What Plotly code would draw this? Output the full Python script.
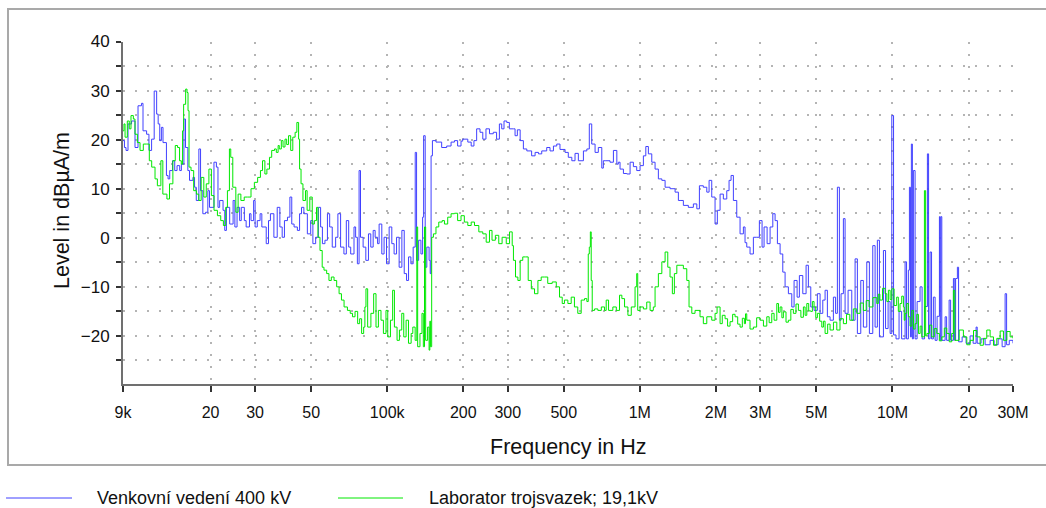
import plotly.graph_objects as go

# Measured magnetic field level (dBµA/m) versus frequency (kHz)
blue_khz = [
    9.0, 9.12, 9.25, 9.42, 9.73, 10.04, 10.32, 10.65, 10.80, 11.16, 11.40, 11.68, 11.96, 12.23,
    12.40, 12.58, 12.77, 12.96, 13.37, 13.57, 13.78, 14.13, 14.42, 14.73, 15.09, 15.32, 15.68,
    15.91, 16.25, 16.50, 17.02, 17.28, 17.55, 17.97, 18.25, 18.63, 19.10, 19.50, 19.80, 20.62,
    21.08, 21.39, 21.72, 22.40, 22.75, 23.10, 23.80, 24.55, 24.95, 25.45, 26.05, 26.45, 27.20,
    27.65, 28.5, 28.9, 29.6, 30.0, 30.6, 31.4, 31.9, 33.2, 33.9, 34.5, 35.6, 36.7, 37.6, 38.4,
    39.2, 40.3, 41.2, 41.9, 42.8, 44.1, 45.0, 45.8, 46.8, 48.3, 49.8, 50.8, 52.1, 53.4, 54.5,
    55.4, 56.7, 58.0, 59.2, 60.6, 62.5, 63.8, 65.4, 67.4, 68.9, 70.4, 71.7, 73.9, 75.0, 76.2,
    77.4, 78.4, 80.3, 82.3, 84.3, 86.1, 88.0, 89.6, 91.6, 92.9, 95.2, 97.2, 99.4, 101.8, 104.3,
    106.5, 108.9, 111.5, 114.3, 116.8, 119.3, 121.5, 124.1, 126.7, 129.1, 130.7, 133.2, 136.0,
    138.1, 139.4, 141.4, 143.5, 146.5, 148.0, 149.2, 151.0,
    156, 164.3, 172.0, 179, 184.6, 190, 196, 199, 208.5, 215, 220.5, 226, 233, 239, 246, 254,
    263, 271, 278, 284, 290, 297.4, 304.5, 315.8, 320.7, 327.5, 336, 346, 357, 373, 385, 397,
    409, 428, 441, 455, 469, 483, 506, 521, 538, 554, 571, 598, 617, 631, 645, 665, 685, 707,
    717, 729, 762, 786, 811, 822, 835, 861, 888, 915, 943, 972,
    1002, 1033, 1056, 1081, 1115, 1149, 1184, 1222, 1259, 1317, 1379, 1421, 1443, 1487, 1556,
    1629, 1681, 1721, 1784, 1841, 1880, 1926, 1985, 2027, 2078, 2141, 2209, 2255, 2297, 2346,
    2419, 2493, 2570, 2609, 2650, 2731, 2815, 2903, 2973, 3047, 3103, 3190, 3278, 3360, 3431,
    3504, 3591, 3680, 3758, 3873, 3995, 4079, 4193, 4281, 4416, 4551, 4647, 4750, 4894, 5044,
    5170, 5299, 5411, 5526, 5663, 5837, 5955, 6053, 6164, 6260, 6393, 6493, 6673, 6902, 7113,
    7263, 7491, 7671, 7913, 8103, 8357, 8535, 8715, 8880, 9210, 9390, 9610, 9790, 9940, 10100,
    10330, 10620, 10870, 11220, 11370, 11560, 11670, 11780, 11880, 11990, 12100, 12290, 12520,
    12860, 13100, 13400, 13750, 13900, 14090, 14280, 14520, 14750, 15020, 15340, 15440, 15540,
    15680, 16160, 16380, 16760, 16990, 17430, 17650, 17780, 18070, 18270, 18870, 19560, 20290,
    20860, 21430, 21650, 22430, 23260, 24350, 25260, 26200, 27170, 27920, 28300, 29000, 30000,
]
blue_db = [
    19.8, 18.4, 17.8, 23.2, 23.8, 18.4, 26.9, 27.4, 21.8, 21.1, 17.8, 20.1, 29.9, 25.2,
    23.2, 19.8, 22.5, 19.4, 12.7, 12.0, 13.7, 15.7, 13.7, 14.7, 13.7, 15.0, 24.2,
    18.4, 13.7, 11.7, 12.3, 10.3, 7.6, 18.1, 9.6, 4.9, 5.2, 9.6, 6.2, 15.4,
    14.4, 6.2, 7.6, 5.6, 1.5, 6.2, 2.8, 7.6, 2.2, 6.2, 3.5, 6.2, 3.5,
    2.2, 4.9, 3.5, 7.6, 2.2, 3.5, 4.9, 2.2, -1.2, 3.5, 4.9, 0.1, 6.2, 2.2, 0.1,
    3.5, 4.2, 8.3, 2.8, 2.2, 1.5, 4.9, 6.2, 4.9, 0.8, 3.5, -1.2, 0.1, 6.2, 2.2,
    -1.2, -0.5, 4.9, 2.2, -1.9, 0.1, 4.9, -1.9, -3.3, 3.5, -1.9, -3.3, 2.2, 0.1, -5.3,
    13.7, 0.1, -1.9, -4.6, 0.8, -1.9, 1.5, 0.1, -1.2, 2.8, -3.3, 0.1, -5.3, 2.2, -1.2,
    -3.3, 0.1, -6.0, 1.5, -7.3, -8.7, -3.9, -5.3, -1.9, 17.4, -4.6, -0.5, -3.3,
    4.2, 20.8, -6.0, -1.9, -4.6, -7.3, 16.7, 19.8,
    19.5, 18.4, 18.7, 19.5, 19.8, 18.7, 19.7, 20.1, 19.5, 18.7, 19.8, 22.2, 21.5, 20.1, 22.2, 21.2,
    21.5, 20.1, 23.2, 22.2, 23.8, 23.5, 22.2, 22.2, 20.8, 22.0, 19.8, 18.1, 17.7, 16.7, 17.4, 17.1,
    17.7, 18.4, 17.7, 18.7, 19.1, 18.0, 17.4, 16.4, 15.7, 17.2, 15.7, 17.7, 18.1, 23.2, 19.1, 17.4, 18.4, 14.2,
    15.7, 15.7, 15.4, 17.8, 15.0, 15.4, 14.0, 13.1, 13.0, 15.4, 14.5, 13.7,
    14.7, 16.7, 18.6, 17.1, 15.4, 14.0, 12.0, 11.7, 10.3, 10.0, 9.3, 7.6, 7.6, 6.6, 6.2,
    6.9, 5.9, 10.6, 10.3, 9.3, 11.7, 8.3, 2.8, 5.6, 8.9, 7.9, 9.6, 11.7, 12.7, 7.6,
    4.2, 0.8, 2.2, -1.0, -1.9, -3.3, 0.1, 0.1, 3.5, -1.9, 2.2, -1.2, 2.2, 4.9, 3.5,
    -1.2, -3.3, -7.0, -10.0, -11.4, -14.1, -8.7, -12.1, -7.7, -11.4, -5.6, -10.0, -14.1, -14.8, -11.4,
    -15.4, -12.7, -10.7, -16.1, -16.8, -12.1, -15.4, 10.3, -16.8, -11.4, 3.9, -15.4, -10.7, -16.8, -4.3,
    -19.5, -8.7, -18.2, -4.9, -19.5, -1.6, -18.2, -0.5, -20.2, -2.6, -18.5, -13.0, -19.5, 24.9, -19.8,
    -20.6, -15.0, -20.6, -4.9, -20.6, -6.6, 10.3, -20.2, 19.1, -20.6, 13.7, -20.6, -13.0,
    -10.0, -20.6, -14.0, 17.1, -20.6, -2.9, -20.6, -12.1, -20.9, -16.0, 4.3, -20.9, 4.3,
    -20.9, -16.1, -20.9, -12.7, -20.9, -8.3, -20.9, -8.3, -6.0, -21.2, -20.2, -21.5, -20.0,
    -21.5, -18.2, -21.5, -20.6, -21.8, -20.9, -21.8, -20.6, -22.2, -11.4, -21.8, -20.9, -21.5,
]

green_khz = [
    9.0, 9.08, 9.17, 9.36, 9.53, 9.68, 9.89, 10.04, 10.26, 10.51, 10.83, 11.17, 11.44, 11.69,
    12.05, 12.31, 12.63, 12.71, 12.94, 13.43, 13.75, 14.18, 14.49, 14.80, 15.07, 15.31, 15.49,
    15.64, 15.93, 16.13, 16.28, 16.43, 16.73, 17.14, 17.57, 17.95, 18.35, 18.80, 19.22, 19.69,
    20.14, 20.63, 21.28, 21.93, 22.47, 22.95, 23.31, 23.74, 24.03, 24.48, 25.17, 25.70, 26.35,
    27.17, 28.03, 28.9, 29.8, 30.7, 31.5, 32.1, 32.8, 33.4, 34.2, 34.9, 35.8, 36.4, 37.0, 37.4,
    38.1, 38.7, 39.4, 40.0, 40.7, 41.5, 42.3, 43.2, 43.9, 44.6, 45.0, 45.6, 46.4, 47.5, 48.2,
    49.4, 50.5, 51.5, 52.5, 53.2, 54.2, 55.3, 56.2, 57.6, 58.8, 60.1, 61.6, 63.1, 64.5, 65.9,
    67.5, 69.6, 71.4, 72.9, 74.6, 76.4, 77.8, 79.2, 80.7, 81.6, 82.4, 83.7, 86.2, 88.4, 90.3,
    92.3, 94.5, 96.6, 98.9, 100.5, 103.0, 105.1, 106.8, 109.4, 111.8, 114.2, 116.3, 118.8,
    121.4, 124.4, 126.3, 129.0, 131.0, 132.0, 134.8, 137.3, 139.0, 140.5, 142.0, 144.5, 146.5,
    147.5, 148.5,
    150.0, 152.4, 156, 160, 165, 168.5, 173.6, 179, 184.6, 190, 196, 202, 208.5, 215, 221.6,
    230.5, 239, 246.5, 254, 260, 268, 276.5, 285, 296, 305, 312.5, 316, 322, 329, 336, 344,
    353, 361.5, 372, 383, 395, 407, 419, 432, 450, 467, 481, 493, 503, 519, 535, 551, 568,
    586, 604, 617, 625, 631, 637, 642, 648, 662, 682, 704, 725, 736, 752, 782, 807, 831, 849,
    870, 897, 925, 957.5, 972, 981,
    1002, 1033, 1065, 1098, 1131, 1149, 1184, 1222, 1259, 1290, 1317, 1345, 1370, 1401, 1443,
    1487, 1534, 1566, 1606, 1654, 1731, 1784, 1841, 1926, 1985, 2022,
    2078, 2120, 2175, 2225, 2276, 2330, 2382, 2440, 2493, 2545, 2593, 2620, 2650, 2730, 2815,
    2900, 2992, 3085, 3181, 3250, 3329, 3400, 3485, 3540, 3591, 3650, 3700, 3790, 3873, 3960,
    4053, 4150, 4243, 4340, 4441, 4510, 4581, 4660, 4750, 4820, 4894, 4970, 5044, 5150, 5251,
    5330, 5411, 5540, 5663, 5840, 6021, 6200, 6393, 6580, 6779, 7000, 7224, 7450, 7671, 7870,
    8080, 8370, 8667, 8790, 8917, 9130, 9350, 9500, 9636, 9790, 9940, 10150, 10390, 10550,
    10710, 10880, 11050, 11130, 11220, 11390, 11560, 11740, 11930, 12110, 12290, 12480, 12670,
    12870, 13070, 13380, 13530, 13690, 14000, 14310, 14640, 14980, 15330, 15680, 16040, 16400,
    16780, 17160, 17430, 17650, 18370, 19090, 19690, 20290, 20930, 21570, 22230, 22900, 23620,
    24350, 25110, 25880, 26690, 27500, 28360, 29230, 30000,
]
green_db = [
    21.8, 23.2, 20.5, 23.8, 22.2, 24.9, 24.2, 21.1, 19.4, 17.8, 19.1, 19.1, 15.7, 14.4,
    12.0, 10.6, 10.6, 15.7, 8.9, 7.9, 11.0, 15.7, 18.8, 18.4, 15.7, 15.0, 21.8,
    27.2, 30.3, 29.6, 25.9, 14.4, 13.7, 9.6, 8.9, 7.6, 12.3, 8.3, 11.0, 14.0,
    8.6, 5.6, 4.5, 3.5, 2.5, 6.2, 9.6, 18.1, 16.4, 10.3, 5.2, 8.9, 7.6,
    8.3, 8.3, 10.0, 11.3, 12.3, 13.7, 15.7, 13.0, 14.0, 16.4, 17.8, 18.1, 17.4, 18.8, 18.1,
    19.8, 18.5, 20.1, 19.0, 20.8, 17.8, 20.5, 21.5, 23.5, 20.1, 14.0, 11.0, 7.6, 9.6, 5.6,
    8.3, 2.8, 3.5, 6.2, 0.1, -2.6, -6.0, -6.6, -7.3, -8.7, -8.0, -8.7, -10.0, -11.4, -12.7,
    -14.1, -14.8, -15.4, -16.1, -15.0, -17.5, -16.5, -19.5, -18.2, -14.1, -10.4, -18.2, -15.4, -11.4, -18.2,
    -14.8, -16.8, -19.5, -14.8, -20.2, -16.8, -10.7, -18.2, -20.9, -18.8, -15.4, -20.2, -16.8,
    -21.5, -19.5, -18.2, -20.9, 2.2, -22.2, -19.5, -15.4, -22.2, 2.2, -20.9, -18.2, -22.9,
    -17.0, -22.2,
    0.1, 0.8, 2.2, 3.2, 3.5, 2.8, 4.2, 4.9, 5.0, 3.5, 4.5, 3.2, 2.5, 3.2, 2.5,
    1.2, 0.8, -0.9, 1.5, -0.5, 0.5, -1.2, 0.1, -1.2, 1.2, -1.6, -4.6, -8.0, -8.7, -4.6, -3.9,
    -3.9, -8.7, -10.4, -11.4, -8.7, -8.0, -8.0, -9.3, -9.0, -10.0, -12.1, -13.4, -12.7, -13.4, -12.1, -14.1, -15.4,
    -12.7, -12.4, -13.0, -3.3, -1.9, 1.2, -8.7, -14.8, -14.5, -14.8, -14.1, -14.8, -12.7, -14.8, -14.1, -14.8, -11.7, -12.4,
    -14.1, -15.8, -14.1, -10.0, -7.3, -14.8,
    -14.1, -14.5, -13.1, -14.8, -14.1, -10.0, -7.3, -4.9, -2.9, -6.0, -8.0, -11.4, -7.3, -5.6, -5.6,
    -6.3, -8.7, -14.1, -15.4, -14.8, -16.1, -17.5, -16.1, -16.8, -15.4, -14.1,
    -17.5, -15.8, -16.5, -18.0, -17.1, -15.6, -16.1, -17.6, -18.2, -16.4, -17.5, -15.5, -16.8, -18.6, -18.2,
    -16.3, -16.8, -18.0, -16.1, -17.3, -15.4, -16.8, -13.4, -15.2, -14.1, -16.3, -15.1, -17.2, -16.8, -14.6,
    -15.4, -13.5, -14.8, -16.2, -14.1, -15.8, -13.4, -14.9, -15.0, -13.0, -14.1, -16.3, -15.4, -17.0, -18.2,
    -17.0, -19.5, -17.6, -18.8, -17.2, -18.8, -16.5, -17.5, -15.6, -16.8, -14.5, -15.4, -13.3, -14.8, -12.8,
    -14.1, -12.2, -13.4, -11.5, -12.7, -10.3, -11.4, -13.0, -10.7, -12.6, -10.4, -13.8, -12.1, -15.0,
    -13.4, -11.9, -14.1, -16.8, -15.4, -13.4, -16.1, -18.0, -14.8, -18.6, -17.5, -15.6, -19.5,
    -18.0, -20.2, 9.6, -20.0, -19.5, -17.8, -20.2, -18.5, -19.5, -21.0, -20.2, -18.4, -19.5,
    -21.2, -19.5, -10.7, -20.9, -18.8, -20.2, -21.8, -20.9, -18.9, -20.2, -21.9, -20.5, -18.8,
    -20.2, -21.9, -20.5, -19.0, -20.9, -19.1, -20.2, -20.5,
]

blue_name = "Venkovní vedení 400 kV"
green_name = "Laborator trojsvazek; 19,1kV"
blue_color = "rgb(64,64,255)"
green_color = "rgb(0,232,0)"

x_tickvals = [9e3, 2e4, 3e4, 5e4, 1e5, 2e5, 3e5, 5e5, 1e6, 2e6, 3e6, 5e6, 1e7, 2e7, 3e7]
x_ticktext = ["9k", "20", "30", "50", "100k", "200", "300", "500", "1M", "2M", "3M", "5M", "10M", "20", "30M"]
y_major = [-20, -10, 0, 10, 20, 30, 40]
y_minor = [-25, -15, -5, 5, 15, 25, 35]

W, H = 1046, 508


def px(x):
    return x / W


def py(y):
    return 1 - y / H


fig = go.Figure()
fig.add_trace(go.Scatter(
    x=[f * 1000 for f in blue_khz], y=blue_db, mode="lines", name=blue_name,
    line=dict(color=blue_color, width=1, shape="hv"),
))
fig.add_trace(go.Scatter(
    x=[f * 1000 for f in green_khz], y=green_db, mode="lines", name=green_name,
    line=dict(color=green_color, width=1, shape="hv"),
))

font_family = "Liberation Sans, Arial, sans-serif"
text_color = "#111"
grid_dash = "2px,10px"

fig.update_layout(
    width=W, height=H, autosize=False,
    margin=dict(l=0, r=0, t=0, b=0, autoexpand=False),
    paper_bgcolor="white", plot_bgcolor="white",
    showlegend=False,
    font=dict(family=font_family, size=16, color=text_color),
    xaxis=dict(
        type="log", domain=[px(123), px(1013)],
        range=[3.95424, 7.47712],
        tickvals=x_tickvals, ticktext=x_ticktext,
        ticks="outside", ticklen=6, tickwidth=1.5, tickcolor="#333",
        ticklabelstandoff=7, automargin=False,
        showline=True, linecolor="#707070", linewidth=2,
        showgrid=True, gridcolor="#b4b4b4", gridwidth=1.5, griddash=grid_dash,
        zeroline=False, tickfont=dict(size=16),
    ),
    yaxis=dict(
        domain=[py(384), py(41.5)],
        range=[-29.8, 40.0],
        tickvals=y_major,
        ticks="outside", ticklen=5, tickwidth=1.5, tickcolor="#333",
        ticklabelstandoff=3, automargin=False,
        showline=True, linecolor="#707070", linewidth=2,
        showgrid=True, gridcolor="#b4b4b4", gridwidth=1.5, griddash=grid_dash,
        zeroline=False, tickfont=dict(size=17),
        minor=dict(tickvals=y_minor, ticks="outside", ticklen=5, tickwidth=1.5, tickcolor="#333",
                   showgrid=True, gridcolor="#b4b4b4", gridwidth=1.5, griddash=grid_dash),
    ),
)

# Outer frame around the chart
fig.add_shape(type="rect", xref="paper", yref="paper",
              x0=px(8), x1=px(W + 6), y0=py(465), y1=py(9),
              line=dict(color="#a9a9a9", width=2), fillcolor="rgba(0,0,0,0)", layer="below")

# Axis titles
fig.add_annotation(x=px(568), y=py(447), xref="paper", yref="paper", text="Frequency in Hz",
                   showarrow=False, font=dict(size=21.5, color=text_color), xanchor="center", yanchor="middle")
fig.add_annotation(x=px(62), y=py(211), xref="paper", yref="paper", text="Level in dBµA/m",
                   showarrow=False, textangle=-90, font=dict(size=21.5, color=text_color),
                   xanchor="center", yanchor="middle")

# Legend drawn beneath the frame
fig.add_shape(type="line", xref="paper", yref="paper", x0=px(6), x1=px(72), y0=py(498), y1=py(498),
              line=dict(color=blue_color, width=1))
fig.add_annotation(x=px(95), y=py(498), xref="paper", yref="paper", text=blue_name,
                   showarrow=False, font=dict(size=18, color=text_color), xanchor="left", yanchor="middle")
fig.add_shape(type="line", xref="paper", yref="paper", x0=px(338), x1=px(403), y0=py(498), y1=py(498),
              line=dict(color=green_color, width=1))
fig.add_annotation(x=px(427), y=py(498), xref="paper", yref="paper", text=green_name,
                   showarrow=False, font=dict(size=18, color=text_color), xanchor="left", yanchor="middle")

fig.write_html("out.html")
